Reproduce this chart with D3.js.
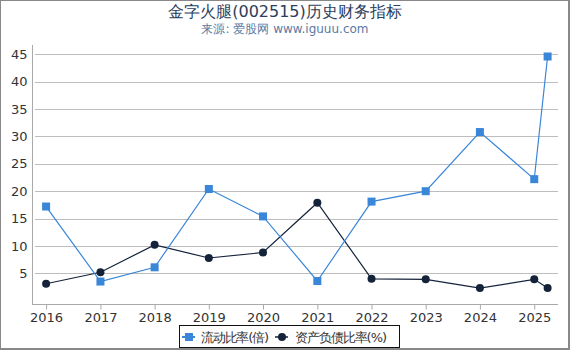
<!DOCTYPE html>
<html><head><meta charset="utf-8">
<script src="https://cdn.jsdelivr.net/npm/d3@7"></script>
<style>body{margin:0;background:#fff;}svg{display:block;font-family:"DejaVu Sans",sans-serif;}</style>
</head><body>
<svg id="c" width="570" height="350"></svg>
<script>
const dates = ["2016-01-01","2017-01-01","2018-01-01","2019-01-01","2020-01-01","2021-01-01","2022-01-01","2023-01-01","2024-01-01","2025-01-01","2025-04-01"];
const currentRatio = [17.2, 3.5, 6.1, 20.4, 15.4, 3.6, 18.1, 20.0, 30.8, 22.2, 44.6];
const debtRatio = [3.1, 5.2, 10.2, 7.8, 8.8, 17.9, 4.0, 3.9, 2.3, 3.9, 2.3];
const yTicks = [5, 10, 15, 20, 25, 30, 35, 40, 45];
const xTickYears = [2016,2017,2018,2019,2020,2021,2022,2023,2024,2025];
const seriesNames = ["流动比率(倍)", "资产负债比率(%)"];

const svg = d3.select("#c");
const parse = d3.timeParse("%Y-%m-%d");
const dts = dates.map(parse);

const x = d3.scaleTime().domain([parse("2015-09-28"), parse("2025-06-10")]).range([32, 558]);
const y = d3.scaleLinear().domain([-0.6, 46.7]).range([304, 45]);

// frame
svg.append("rect").attr("x",0.5).attr("y",0.5).attr("width",568).attr("height",348).attr("fill","none").attr("stroke","#888").attr("stroke-width",1);
svg.append("line").attr("x1",569).attr("x2",569).attr("y1",0).attr("y2",350).attr("stroke","#888").attr("stroke-width",2);
svg.append("line").attr("x1",0).attr("x2",570).attr("y1",349).attr("y2",349).attr("stroke","#888").attr("stroke-width",2);

// title
svg.append("text").attr("x",285).attr("y",17).attr("text-anchor","middle").attr("font-size",16).attr("fill","#2b3e5c").text("金字火腿(002515)历史财务指标");
svg.append("text").attr("x",285).attr("y",33).attr("text-anchor","middle").attr("font-size",12).attr("fill","#5b7aa3").text("来源: 爱股网 www.iguuu.com");

// grid
const grid = svg.append("g");
grid.selectAll("line").data(yTicks).join("line")
  .attr("x1",35).attr("x2",558).attr("y1",d=>Math.round(y(d))+0.5).attr("y2",d=>Math.round(y(d))+0.5)
  .attr("stroke","#bdbdbd").attr("stroke-width",1);

// y axis
const yAxis = svg.append("g").attr("transform","translate(32.5,0)")
  .call(d3.axisLeft(y).tickValues(yTicks).tickSize(0).tickPadding(5));
yAxis.select(".domain").attr("stroke","#aaa").attr("d","M0,45V304");
yAxis.selectAll("text").attr("font-size",13).attr("fill","#333").attr("font-family","DejaVu Sans, sans-serif");

// x axis
const xAxis = svg.append("g").attr("transform","translate(0,304.5)")
  .call(d3.axisBottom(x).tickValues(xTickYears.map(yv=>new Date(yv,0,1))).tickFormat(d3.timeFormat("%Y")).tickSize(5).tickPadding(3));
xAxis.select(".domain").attr("stroke","#aaa").attr("d","M32,0H558");
xAxis.selectAll(".tick line").attr("stroke","#aaa");
xAxis.selectAll("text").attr("font-size",13).attr("fill","#333").attr("font-family","DejaVu Sans, sans-serif");

const blue = "#3a86d9", dark = "#14233a";
const line = d3.line().x((d,i)=>x(dts[i])).y(d=>y(d));

svg.append("path").datum(debtRatio).attr("d",line).attr("fill","none").attr("stroke",dark).attr("stroke-width",1.2);
svg.append("path").datum(currentRatio).attr("d",line).attr("fill","none").attr("stroke",blue).attr("stroke-width",1.2);

svg.append("g").selectAll("circle").data(debtRatio).join("circle")
  .attr("cx",(d,i)=>x(dts[i])).attr("cy",d=>y(d)).attr("r",4).attr("fill",dark);
svg.append("g").selectAll("rect").data(currentRatio).join("rect")
  .attr("x",(d,i)=>x(dts[i])-4).attr("y",d=>y(d)-4).attr("width",8).attr("height",8).attr("fill",blue);

// legend
const lg = svg.append("g");
lg.append("rect").attr("x",179.5).attr("y",325.5).attr("width",220).attr("height",22).attr("fill","#fff").attr("stroke","#111").attr("stroke-width",1);
lg.append("line").attr("x1",182).attr("x2",195).attr("y1",337).attr("y2",337).attr("stroke",blue).attr("stroke-width",2);
lg.append("rect").attr("x",185).attr("y",333).attr("width",8).attr("height",8).attr("fill",blue);
lg.append("text").attr("x",201).attr("y",342).attr("font-size",13).attr("fill","#333").attr("textLength",68).text(seriesNames[0]);
lg.append("line").attr("x1",275).attr("x2",288).attr("y1",337).attr("y2",337).attr("stroke","#4a5a70").attr("stroke-width",2);
lg.append("circle").attr("cx",282).attr("cy",337).attr("r",4).attr("fill",dark);
lg.append("text").attr("x",295).attr("y",342).attr("font-size",13).attr("fill","#333").attr("textLength",92).text(seriesNames[1]);
</script>
</body></html>
